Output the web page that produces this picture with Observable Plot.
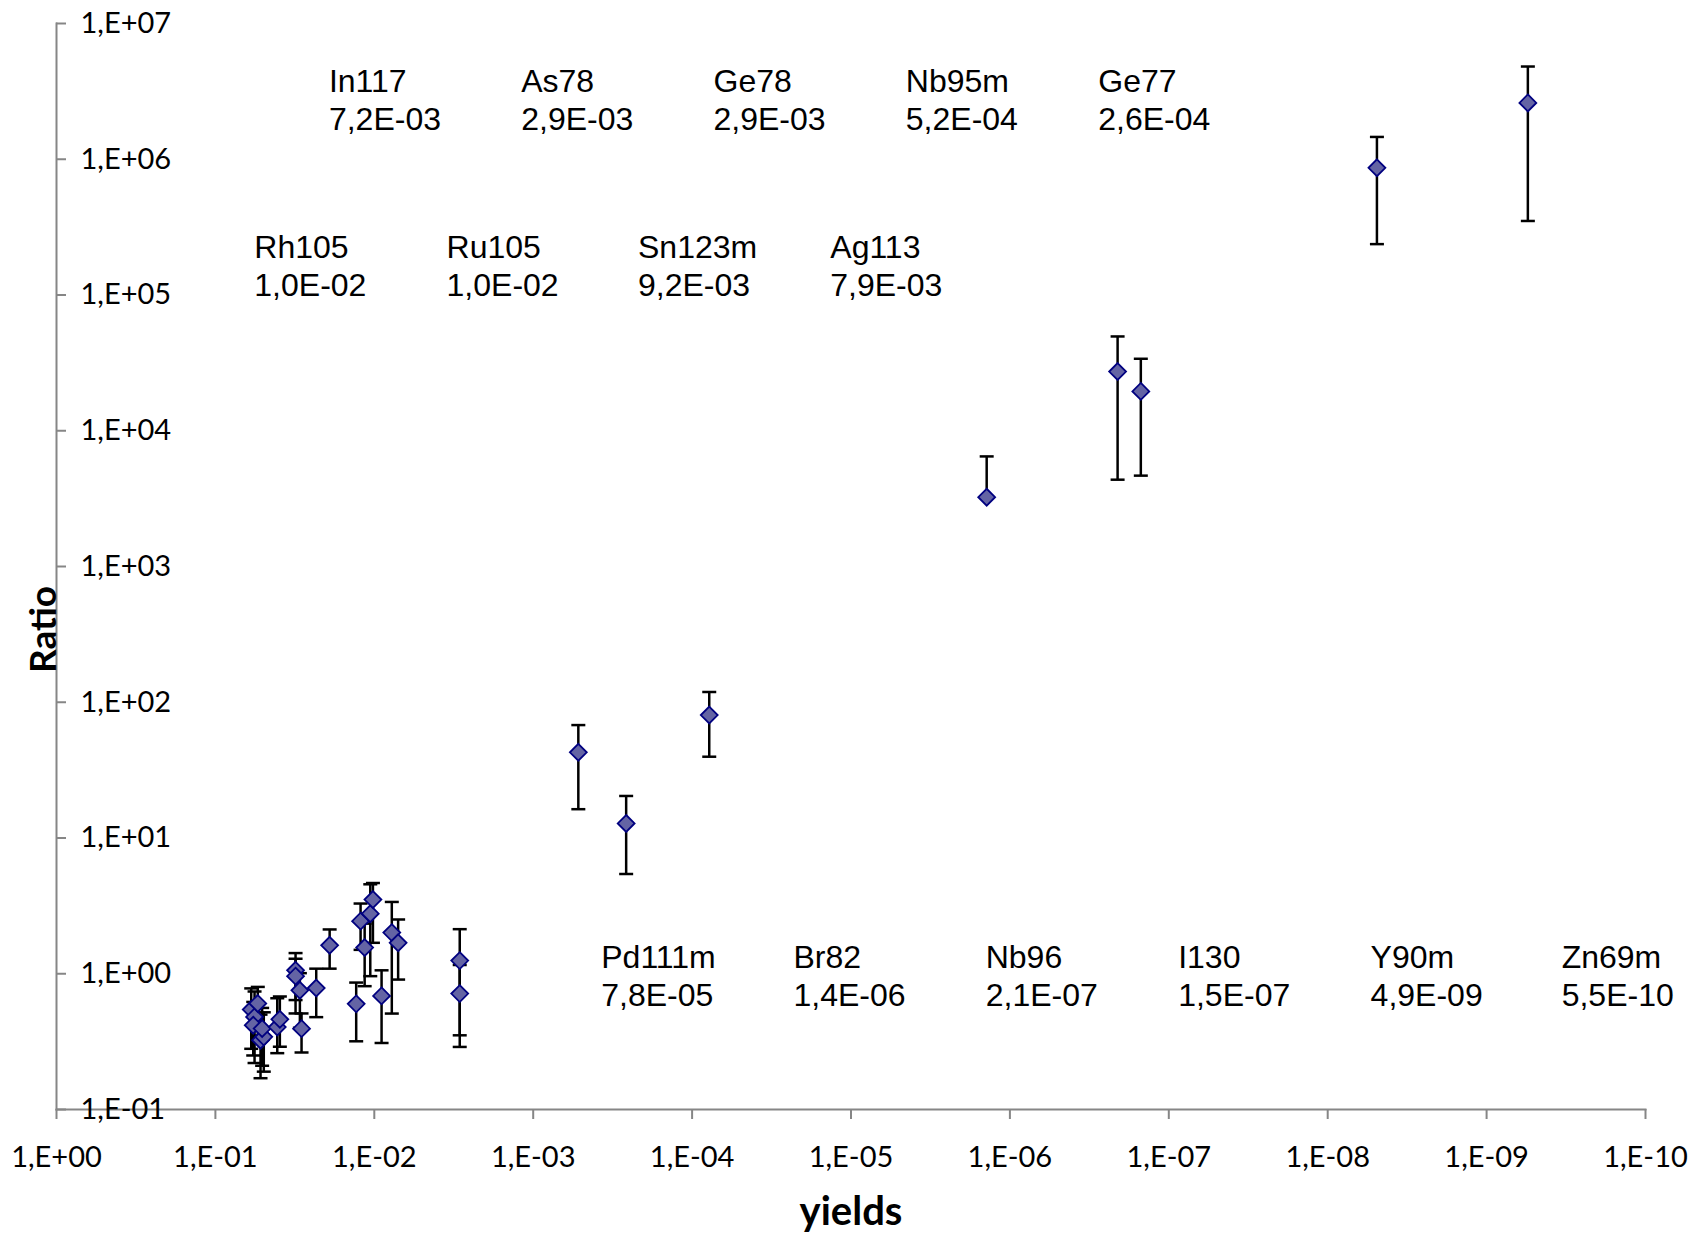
<!DOCTYPE html>
<html>
<head>
<meta charset="utf-8">
<script src="https://cdn.jsdelivr.net/npm/d3@7"></script>
<script src="https://cdn.jsdelivr.net/npm/@observablehq/plot@0.6"></script>
<style>
  html, body { margin: 0; padding: 0; background: #ffffff; }
  #chart { width: 1694px; height: 1233px; }
</style>
</head>
<body>
<div id="chart"></div>
<script>
// ---------- data ----------
const yields = [5.95e-2, 5.67e-2, 5.41e-2, 5.78e-2, 5.20e-2, 4.96e-2, 5.08e-2, 4.08e-2, 3.93e-2,
  3.13e-2, 3.13e-2, 2.94e-2, 2.87e-2, 2.32e-2, 1.91e-2, 1.30e-2, 1.22e-2, 1.15e-2, 1.06e-2, 1.02e-2,
  9.0e-3, 7.76e-3, 7.08e-3, 2.9e-3, 2.9e-3, 5.2e-4, 2.6e-4, 7.8e-5, 1.4e-6, 2.1e-7, 1.5e-7, 4.9e-9, 5.5e-10];
const ratios = [0.545, 0.481, 0.604, 0.418, 0.324, 0.343, 0.395, 0.405, 0.462,
  1.06, 0.96, 0.755, 0.394, 0.785, 1.62, 0.600, 2.44, 1.56, 2.77, 3.52,
  0.687, 2.01, 1.69, 1.25, 0.714, 42.8, 12.8, 80.5, 3240, 27300, 19500, 865000, 2600000];
const upper = [0.78, 0.74, 0.80, 0.62, 0.50, 0.52, 0.56, 0.66, 0.68,
  1.42, 1.29, 1.01, 0.51, 1.09, 2.12, 0.861, 3.29, 2.34, 4.56, 4.66,
  1.06, 3.38, 2.51, 2.13, 1.16, 67.9, 20.4, 119, 6470, 49500, 33900, 1460000, 4820000];
const lower = [0.28, 0.22, 0.35, 0.25, 0.17, 0.19, 0.21, 0.26, 0.29,
  0.64, 0.51, 0.40, 0.263, 0.479, 1.09, 0.318, 1.50, 0.81, 0.96, 1.69,
  0.309, 0.509, 0.906, 0.352, 0.289, 16.3, 5.43, 39.7, null, 4360, 4670, 237000, 351000];

const xTicks = [1, 1e-1, 1e-2, 1e-3, 1e-4, 1e-5, 1e-6, 1e-7, 1e-8, 1e-9, 1e-10];
const xTickLabels = ["1,E+00", "1,E-01", "1,E-02", "1,E-03", "1,E-04", "1,E-05", "1,E-06", "1,E-07", "1,E-08", "1,E-09", "1,E-10"];
const yTicks = [1e-1, 1, 1e1, 1e2, 1e3, 1e4, 1e5, 1e6, 1e7];
const yTickLabels = ["1,E-01", "1,E+00", "1,E+01", "1,E+02", "1,E+03", "1,E+04", "1,E+05", "1,E+06", "1,E+07"];

// annotation boxes (nuclide + yield), anchored in data space (left edge, vertical centre)
const annNames  = ["In117", "As78", "Ge78", "Nb95m", "Ge77",
                   "Rh105", "Ru105", "Sn123m", "Ag113",
                   "Pd111m", "Br82", "Nb96", "I130", "Y90m", "Zn69m"];
const annValues = ["7,2E-03", "2,9E-03", "2,9E-03", "5,2E-04", "2,6E-04",
                   "1,0E-02", "1,0E-02", "9,2E-03", "7,9E-03",
                   "7,8E-05", "1,4E-06", "2,1E-07", "1,5E-07", "4,9E-09", "5,5E-10"];
const annX = [1.93e-2, 1.19e-3, 7.33e-5, 4.52e-6, 2.78e-7,
              5.69e-2, 3.51e-3, 2.19e-4, 1.35e-5,
              3.73e-4, 2.30e-5, 1.42e-6, 8.73e-8, 5.37e-9, 3.37e-10];
const annY = [2.78e6, 2.78e6, 2.78e6, 2.78e6, 2.78e6,
              1.66e5, 1.66e5, 1.66e5, 1.66e5,
              0.977, 0.977, 0.977, 0.977, 0.977, 0.977];

// ---------- tables built from the arrays ----------
const points = yields.map((d, i) => ({yield: d, ratio: ratios[i], hi: upper[i], lo: lower[i]}));
const caps = points.flatMap(p => p.lo == null ? [{yield: p.yield, v: p.hi}] : [{yield: p.yield, v: p.hi}, {yield: p.yield, v: p.lo}]);
const notes = annNames.map((n, i) => ({x: annX[i], y: annY[i], text: n + "\n" + annValues[i]}));

const capSymbol = {
  draw(context, size) {
    const w = Math.sqrt(size / Math.PI);
    context.moveTo(-w, 0);
    context.lineTo(w, 0);
  }
};

const axisGray = "#868686";

const chart = Plot.plot({
  width: 1694,
  height: 1233,
  marginLeft: 56,
  marginRight: 49,
  marginTop: 23,
  marginBottom: 124,
  style: {fontFamily: "Lato, 'Open Sans', sans-serif", fontSize: "29px", color: "#000", background: "#fff"},
  x: {type: "log", domain: [1, 1e-10]},
  y: {type: "log", domain: [0.1, 1e7]},
  marks: [
    Plot.frame({anchor: "left", stroke: axisGray, strokeWidth: 2}),
    Plot.frame({anchor: "bottom", stroke: axisGray, strokeWidth: 2}),
    Plot.axisX({
      anchor: "bottom", ticks: xTicks,
      tickFormat: d => xTickLabels[xTicks.indexOf(d)],
      tickSize: 10, tickPadding: 27, stroke: axisGray, strokeWidth: 2, fill: "#000",
      label: null, fontSize: 29
    }),
    // y tick marks (pointing inwards)
    Plot.axisY({
      anchor: "left", ticks: yTicks, tickFormat: () => "",
      tickSize: -10, tickPadding: 0, stroke: axisGray, strokeWidth: 2, label: null
    }),
    // y tick labels (placed inside the plot, to the right of the axis)
    Plot.axisY({
      anchor: "left", ticks: yTicks,
      tickFormat: d => yTickLabels[yTicks.indexOf(d)],
      tickSize: 0, tickPadding: 0, dx: 24, textAnchor: "start",
      fill: "#000", label: null, fontSize: 29
    }),
    Plot.text(["yields"], {frameAnchor: "bottom", dy: 103, lineAnchor: "middle", textAnchor: "middle",
      fontWeight: "bold", fontSize: 40, fill: "#000"}),
    Plot.text(["Ratio"], {frameAnchor: "left", rotate: -90, dx: -12, dy: 63, lineAnchor: "middle", textAnchor: "middle",
      fontWeight: "bold", fontSize: 37, fill: "#000"}),
    Plot.text(notes, {x: "x", y: "y", text: "text", textAnchor: "start", lineAnchor: "middle",
      lineHeight: 1.19, fontSize: 32, fontFamily: "'Liberation Sans', Arial, sans-serif", fill: "#000"}),
    Plot.ruleX(points, {x: "yield", y1: d => d.lo ?? d.ratio, y2: "hi", stroke: "#000", strokeWidth: 2.5}),
    Plot.dot(caps, {x: "yield", y: "v", symbol: capSymbol, r: 7, stroke: "#000", strokeWidth: 2.5, fill: "none"}),
    Plot.dot(points, {x: "yield", y: "ratio", symbol: "diamond2", r: 7.6, fill: "#6464a4", stroke: "#000080", strokeWidth: 1.8})
  ]
});

document.getElementById("chart").appendChild(chart);
</script>
</body>
</html>
